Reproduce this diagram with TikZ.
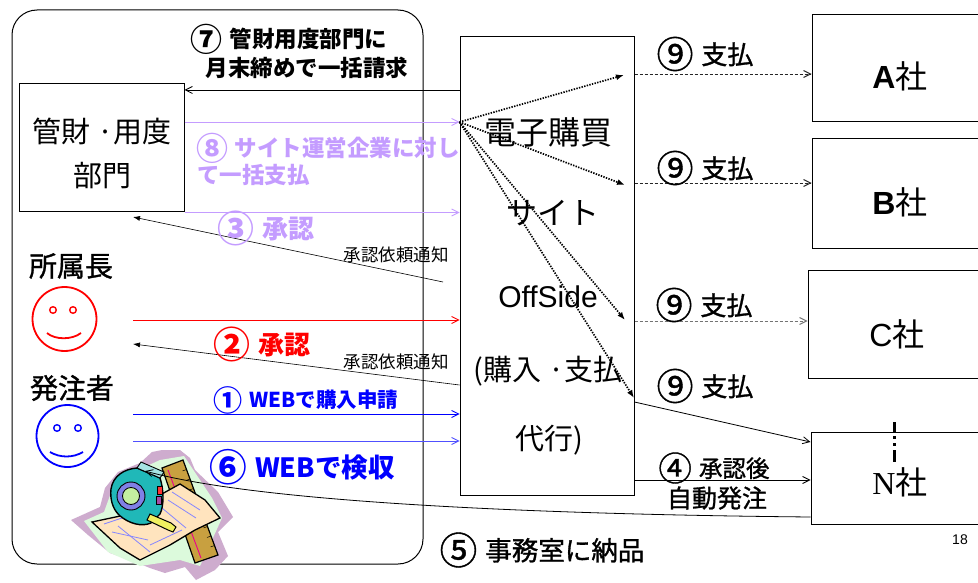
\documentclass[tikz,border=0pt]{standalone}
\usepackage{fontspec}
\setmainfont{Noto Sans CJK JP}
\newfontfamily\medfont[FakeBold=1.1]{Noto Sans CJK JP}
\newfontfamily\arialfont{Liberation Sans}
\newfontfamily\romanfont{Liberation Serif}
\usetikzlibrary{arrows.meta,calc}

\newcommand\fsz[1]{\fontsize{#1}{#1}\selectfont}
% circled step numbers, enlarged to the height of the kanji
\newcommand\cn[1]{\raisebox{-0.15em}{\scalebox{1.42}{#1}}\hspace{0.08em}}

\definecolor{lav}{RGB}{196,156,255}
\definecolor{blueA}{RGB}{0,0,255}
\definecolor{blueB}{RGB}{80,80,255}
\definecolor{mauve}{RGB}{206,172,206}
\definecolor{peach}{RGB}{255,228,190}
\definecolor{gold}{RGB}{200,160,64}
\definecolor{teal1}{RGB}{32,184,184}
\definecolor{ringc}{RGB}{128,128,230}
\definecolor{mint}{RGB}{196,240,160}
\definecolor{tabc}{RGB}{240,240,96}
\definecolor{paleg}{RGB}{220,250,220}

\begin{document}
\begin{tikzpicture}[x=1pt,y=-1pt,
  txt/.style={inner sep=0pt, outer sep=0pt, anchor=center},
  frame/.style={draw, line width=1pt, inner sep=0pt},
  conn/.style={line width=0.8pt},
  barb/.style={-{Straight Barb[length=7pt,width=7pt]}},
  dots/.style={line width=1.7pt, dash pattern=on 1.4pt off 1.3pt,
               -{Latex[length=8pt,width=6pt]}},
  paydash/.style={line width=0.9pt, dash pattern=on 3pt off 2pt, barb},
]
\clip (0,0) rectangle (978,583);
\fill[white] (0,0) rectangle (978,583);

% ---------- frames ----------
\node[frame, rounded corners=25pt, minimum width=411pt, minimum height=554pt] (office) at (217.5,287) {};
\node[frame, minimum width=165pt, minimum height=128pt] (kanzai) at (101.5,148) {};
\node[frame, minimum width=174pt, minimum height=458pt] (site) at (547,266) {};
\node[frame, minimum width=178pt, minimum height=107pt] (coA) at (901,68.5) {};
\node[frame, minimum width=178pt, minimum height=109pt] (coB) at (901,193.5) {};
\node[frame, minimum width=182pt, minimum height=108pt] (coC) at (899,324) {};
\node[frame, minimum width=179pt, minimum height=92pt] (coN) at (900.5,478) {};

% ---------- helper levels ----------
\coordinate (y74) at (0,74);
\coordinate (y90) at (0,90);
\coordinate (y122) at (0,122);
\coordinate (y183) at (0,183);
\coordinate (y320) at (0,320);
\coordinate (y321) at (0,321);
\coordinate (y385) at (0,385);
\coordinate (y402) at (0,402);
\coordinate (y414) at (0,414);
\coordinate (y441) at (0,441);
\coordinate (y442) at (0,442);
\coordinate (y480) at (0,480);
\coordinate (y517) at (0,517);

\coordinate (reqA) at (443,282);
\coordinate (reqAend) at (133,217);
\coordinate (bossOut) at (133,320);
\coordinate (reqBend) at (133,344);
\coordinate (ordOut1) at (133,414);
\coordinate (ordOut2) at (133,441);
\coordinate (dlvEnd) at (145,471);
\coordinate (payA) at (624,75);
\coordinate (payB) at (625,185);
\coordinate (payC) at (625,320);
\coordinate (payN) at (634,398);
\coordinate (ellip) at (894,422);

% ---------- clip art: tape measure, ruler and paper ----------
\fill[mauve] (71,520) -- (100,507) -- (105,488) -- (118,472) -- (140,463)
  -- (152,452) -- (162,450) -- (180,450) -- (190,458) -- (195,470)
  -- (218,492) -- (233,517) -- (218,532) -- (228,556) -- (215,570)
  -- (196,580) -- (185,567) -- (165,573) -- (150,568) -- (130,560)
  -- (110,553) -- (88,535) -- cycle;
\fill[paleg] (84,521) -- (104,512) -- (112,490) -- (138,470) -- (160,460)
  -- (184,456) -- (212,498) -- (222,518) -- (212,540) -- (200,566)
  -- (180,560) -- (140,566) -- (108,552) -- cycle;
% ruler
\filldraw[fill=gold, line width=1.2pt] (162,468) -- (183,460) -- (218,555) -- (195,563) -- cycle;
\draw[magenta, line width=0.9pt] (168,470) -- (201,558);
\foreach \t in {0.1,0.2,...,0.95}
  \draw[line width=0.5pt] ($(183,460)!\t!(218,555)$) -- ++(-4,1.5);
% paper
\filldraw[fill=peach, line width=1.3pt] (92,522) -- (125,515) -- (160,495)
  -- (180,484) -- (205,500) -- (220,518) -- (195,530) -- (170,545)
  -- (140,560) -- (120,548) -- cycle;
\begin{scope}[blueB!70, line width=0.8pt]
  \draw (104,524) -- (137,513);
  \draw (112,532) -- (148,540);
  \draw (118,526) -- (150,552);
  \draw (172,492) -- (200,510);
  \draw (168,500) -- (196,518);
  \draw (162,508) -- (186,528);
  \draw (150,545) -- (182,530);
\end{scope}
% tape measure
\filldraw[fill=teal1, line width=1.4pt] (111,489) .. controls (113,476) and (124,469) .. (137,468)
  -- (160,478) .. controls (164,490) and (164,506) .. (160,514)
  -- (151,523) .. controls (142,527) and (129,524) .. (119,515)
  .. controls (112,508) and (110,498) .. (111,489) -- cycle;
\filldraw[fill=teal1!40, line width=0.9pt] (137,468) -- (141,462) -- (164,472) -- (160,478) -- cycle;
\filldraw[fill=ringc, line width=0.9pt] (131,496) circle (14pt);
\filldraw[fill=mint, line width=0.8pt] (131,496) circle (8.5pt);
\filldraw[fill=red!80, line width=0.8pt] (157,486) rectangle (162,494);
\filldraw[fill=violet!70, line width=0.8pt] (156,496) rectangle (161,504);
\filldraw[fill=tabc, line width=1pt] (150,514) -- (171,523) -- (176,527) -- (173,532) -- (168,530) -- (147,520) -- cycle;

% ---------- connectors ----------
\draw[conn, barb] (site.west |- y90) -- (kanzai.east |- y90);
\draw[conn, lav, barb] (kanzai.east |- y122) -- (site.west |- y122);
\draw[conn, lav, barb] (kanzai.south east) -- (site.west |- kanzai.south);
\draw[line width=0.6pt, -{Latex[length=7pt,width=5pt]}] (reqA) -- (reqAend);
\draw[conn, red, barb] (bossOut) -- (site.west |- y320);
\draw[line width=0.6pt, -{Latex[length=7pt,width=5pt]}] (site.west |- y385) -- (reqBend);
\draw[conn, blueA, barb] (ordOut1) -- (site.west |- y414);
\draw[conn, blueB, barb] (ordOut2) -- (site.west |- y441);

\draw[dots] (site.west |- y122) -- (payA);
\draw[dots] (site.west |- y122) -- (payB);
\draw[dots] (site.west |- y122) -- (payC);
\draw[dots] (site.west |- y122) -- (payN);

\draw[paydash, black!85] (site.east |- y74) -- (coA.west |- y74);
\draw[paydash, black!85] (site.east |- y183) -- (coB.west |- y183);
\draw[paydash, black!55] (site.east |- y321) -- (coC.west |- y321);
\draw[conn, barb] (site.east |- y402) -- (coN.west |- y442);
\draw[conn, barb] (site.east |- y480) -- (coN.west |- y480);
\draw[conn, barb] (coN.west |- y517)
  .. controls (500,514) and (250,500) .. (dlvEnd);

% vertical ellipsis marking the omitted companies
\draw[line width=3pt, dash pattern=on 10pt off 4pt on 3pt off 4pt on 3pt off 4pt on 12pt]
  (ellip) -- ++(0,40);

% ---------- faces ----------
\begin{scope}[red, line width=1.8pt]
  \draw (64.5,319) circle (32pt);
  \draw[line width=1.4pt] (53,310) circle (3.3pt) (73,310) circle (3.3pt);
  \draw (47,333) .. controls (55,340) and (72,340) .. (81,333);
\end{scope}
\begin{scope}[blueA, line width=1.8pt]
  \draw (67.5,436) circle (31pt);
  \draw[line width=1.4pt] (57,428) circle (3.3pt) (78,428) circle (3.3pt);
  \draw (50,452) .. controls (60,458) and (73,458) .. (83,452);
\end{scope}

% ---------- texts ----------
\node[txt, font=\fsz{22.5}\bfseries] (t7a) at (289,39) {\cn{⑦} 管財用度部門に};
\node[txt, font=\fsz{22.5}\bfseries] (t7b) at (307,68) {月末締めで一括請求};
\node[txt, font=\fsz{29}] (tk1) at (102,131) {管財 ·用度};
\node[txt, font=\fsz{29}] (tk2) at (102,176) {部門};
\node[txt, anchor=west, font=\fsz{22.5}\bfseries, text=lav] (t8a) at (196,148) {\cn{⑧} サイト運営企業に対し};
\node[txt, anchor=west, font=\fsz{22.5}\bfseries, text=lav] (t8b) at (197,175) {て一括支払};
\node[txt, font=\fsz{26}\bfseries, text=lav] (t3) at (266,228) {\cn{③} 承認};
\node[txt, font=\fsz{17.5}] (tn1) at (396,255) {承認依頼通知};
\node[txt, font=\medfont\fsz{28}] (tboss) at (71,266) {所属長};
\node[txt, font=\fsz{26}\bfseries, text=red] (t2) at (262,344) {\cn{②} 承認};
\node[txt, font=\fsz{17.5}] (tn2) at (396,362) {承認依頼通知};
\node[txt, font=\medfont\fsz{28}] (tord) at (72,388) {発注者};
\node[txt, font=\fsz{20.5}\bfseries, text=blueA] (t1) at (306,400) {\cn{①} WEBで購入申請};
\node[txt, font=\fsz{26.5}\bfseries, text=blueA] (t6) at (302,467) {\cn{⑥} WEBで検収};

\node[txt, font=\fsz{32}] (ts1) at (548,132) {電子購買};
\node[txt, font=\fsz{31}] (ts2) at (553,213) {サイト};
\node[txt, font=\arialfont\fsz{30}] (ts3) at (548,297) {OffSide};
\node[txt, font=\fsz{29}] (ts4) at (548,371) {(購入 ·支払};
\node[txt, font=\fsz{29}] (ts5) at (549,440) {代行)};

\node[txt, font=\medfont\fsz{26}] (t9a) at (705,54) {\cn{⑨} 支払};
\node[txt, font=\medfont\fsz{26}] (t9b) at (705,168) {\cn{⑨} 支払};
\node[txt, font=\medfont\fsz{26}] (t9c) at (704,305) {\cn{⑨} 支払};
\node[txt, font=\medfont\fsz{26}] (t9d) at (705,386) {\cn{⑨} 支払};
\node[txt, font=\medfont\fsz{23.5}] (t4a) at (714,468) {\cn{④} 承認後};
\node[txt, font=\medfont\fsz{25}] (t4b) at (717,498) {自動発注};
\node[txt, font=\medfont\fsz{26.5}] (t5) at (542,550) {\cn{⑤} 事務室に納品};

\node[txt, font=\fsz{32}] (nA) at (900,76) {{\arialfont\bfseries A}社};
\node[txt, font=\fsz{32}] (nB) at (900,202) {{\arialfont\bfseries B}社};
\node[txt, font=\fsz{32}] (nC) at (897,334) {{\arialfont C}社};
\node[txt, font=\fsz{32}] (nN) at (900,482) {{\romanfont N}社};
\node[txt, font=\arialfont\fsz{14}] (pg) at (960,540) {18};
\end{tikzpicture}
\end{document}
